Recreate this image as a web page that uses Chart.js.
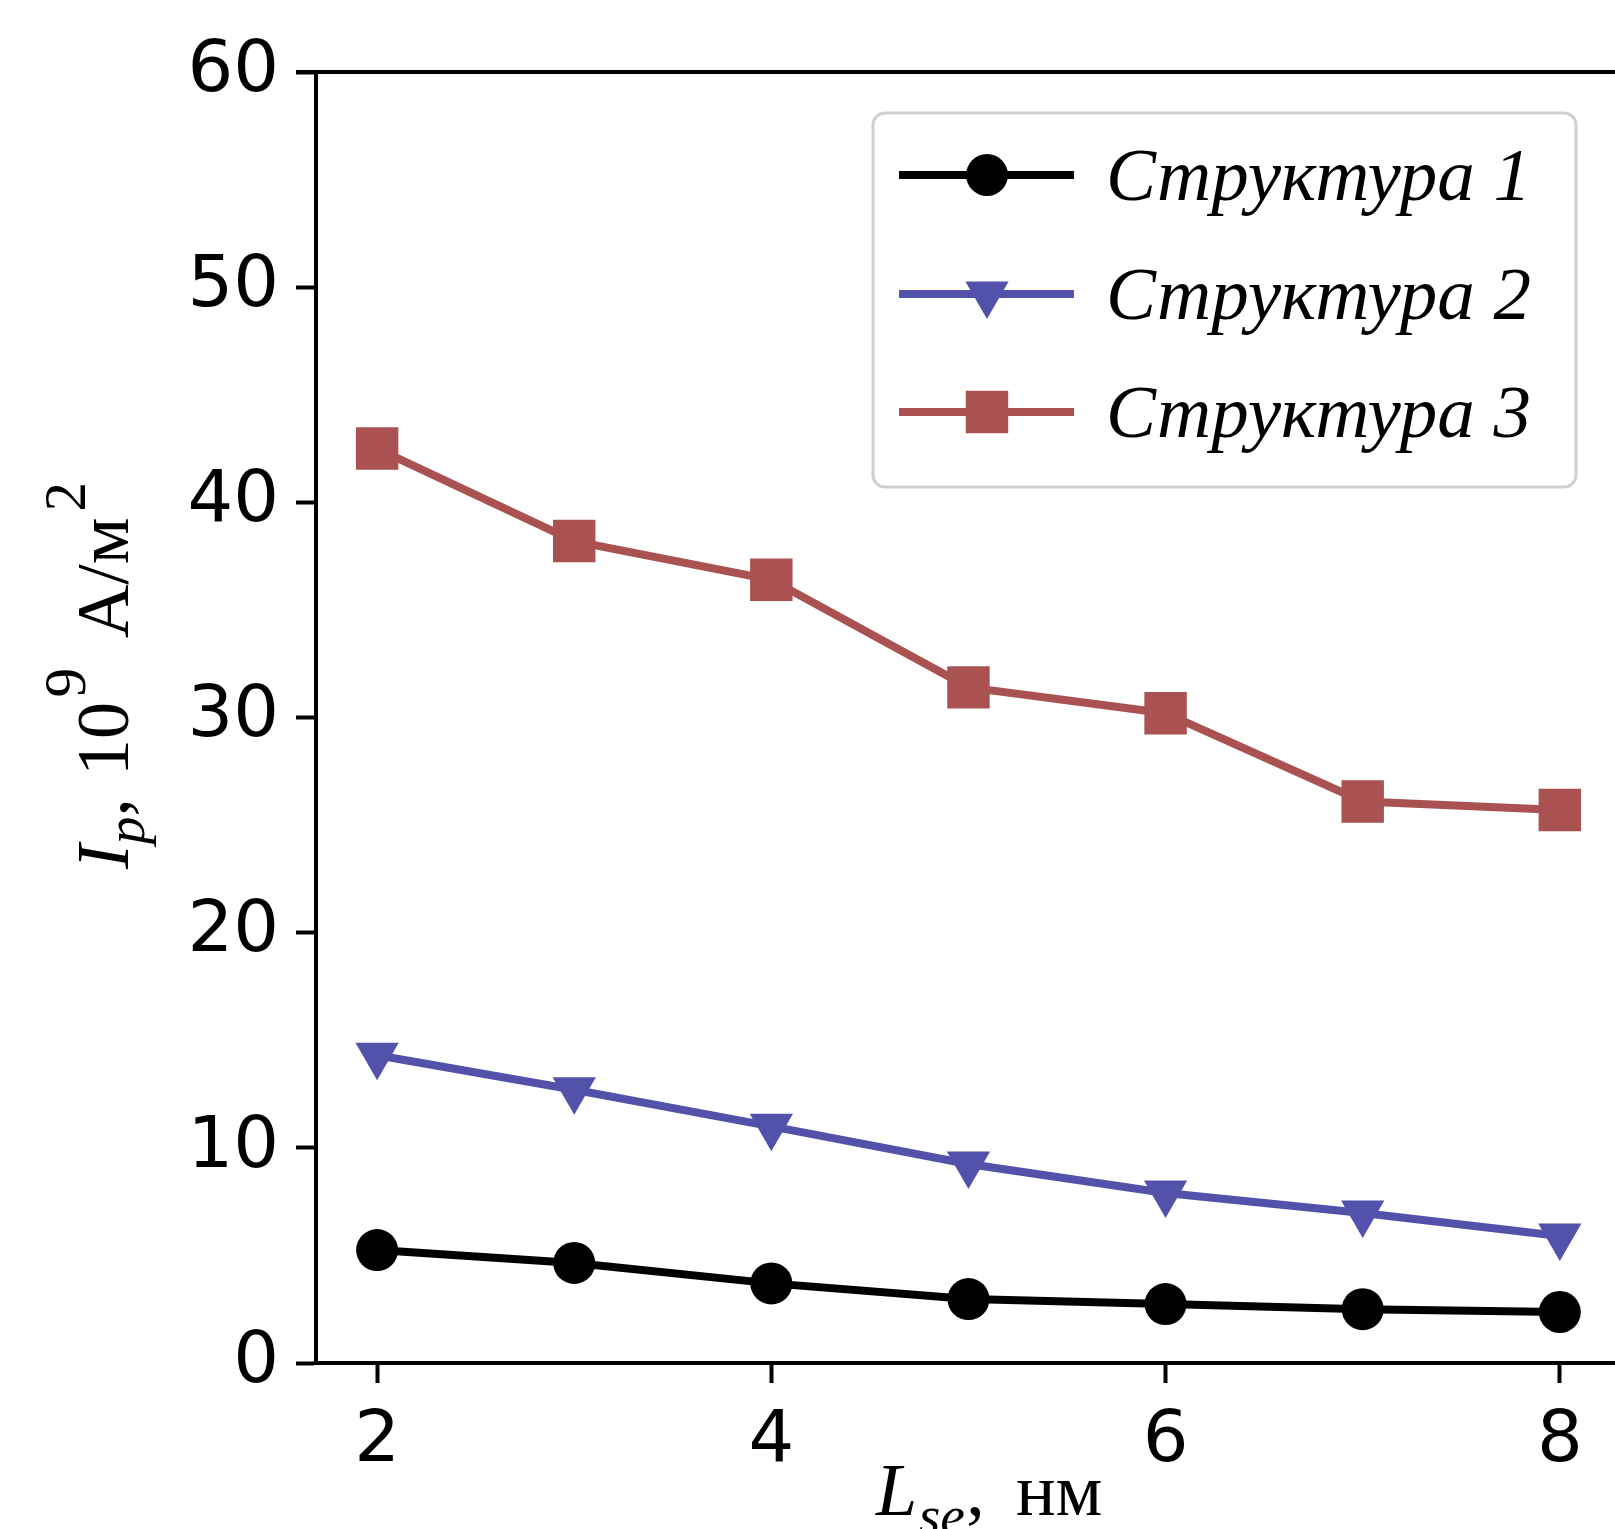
<!DOCTYPE html>
<html lang="ru">
<head>
<meta charset="utf-8">
<script src="https://cdn.jsdelivr.net/npm/chart.js@4.4.1/dist/chart.umd.min.js"></script>
<style>
	html, body { margin: 0; padding: 0; background: #fff; }
	#wrap { width: 1615px; height: 1529px; position: relative; }
</style>
</head>
<body>
<div id="wrap"><canvas id="lineChart"></canvas></div>
<script>
const xValues = [2, 3, 4, 5, 6, 7, 8];
const struct1 = [5.25, 4.65, 3.7, 2.97, 2.74, 2.5, 2.37];
const struct2 = [14.3, 12.7, 11.0, 9.25, 7.9, 6.97, 5.9];
const struct3 = [42.5, 38.2, 36.4, 31.4, 30.2, 26.1, 25.7];
const seriesNames = ['Структура 1', 'Структура 2', 'Структура 3'];
const xTicks = [2, 4, 6, 8];
const yTicks = [0, 10, 20, 30, 40, 50, 60];

const toPoints = (arr) => arr.map((v, i) => { return { x: xValues[i], y: v } });

const serif = '"Liberation Serif", "Times New Roman", serif';
const sans = '"DejaVu Sans", sans-serif';

// text with sub/superscripts, pieces drawn one after another on a baseline
function drawRich(ctx, parts, x, y, size) {
	let cx = x;
	parts.forEach(p => {
		let s = size * (p.scale || 1);
		ctx.font = (p.italic ? 'italic ' : '') + s + 'px ' + serif;
		cx += (p.pre || 0) * size;
		ctx.fillText(p.t, cx, y + (p.dy || 0) * size);
		cx += ctx.measureText(p.t).width;
	});
}

const extrasPlugin = {
	id: 'extras',
	afterDraw(chart) {
		const ctx = chart.ctx;
		const area = chart.chartArea;
		ctx.save();
		// top spine
		ctx.strokeStyle = '#000';
		ctx.lineWidth = 4;
		ctx.beginPath();
		ctx.moveTo(area.left - 20, area.top);
		ctx.lineTo(chart.width, area.top);
		ctx.stroke();

		ctx.fillStyle = '#000';
		ctx.textAlign = 'left';
		ctx.textBaseline = 'alphabetic';

		// x title
		drawRich(ctx, [
			{ t: 'L', italic: true },
			{ t: 'se', italic: true, scale: 0.75, dy: 0.25, pre: 0.02 },
			{ t: ',', pre: 0.02 },
			{ t: 'нм', pre: 0.42 }
		], 876, 1515, 74);

		// y title
		ctx.save();
		ctx.translate(128, 869);
		ctx.rotate(-Math.PI / 2);
		drawRich(ctx, [
			{ t: 'I', italic: true },
			{ t: 'p', italic: true, scale: 0.75, dy: 0.22 },
			{ t: ',' },
			{ t: '10', pre: 0.3 },
			{ t: '9', scale: 0.8, dy: -0.58, pre: 0.06 },
			{ t: 'А/м', pre: 0.4 },
			{ t: '2', scale: 0.8, dy: -0.58, pre: 0.08 }
		], 0, 0, 74);
		ctx.restore();

		// legend box
		const bx = 873, by = 113, bw = 703, bh = 374, r = 12;
		ctx.fillStyle = 'rgba(255,255,255,0.85)';
		ctx.strokeStyle = '#d0d0d0';
		ctx.lineWidth = 3;
		ctx.beginPath();
		ctx.roundRect(bx, by, bw, bh, r);
		ctx.fill();
		ctx.stroke();

		const rows = [175, 294, 412];
		chart.data.datasets.forEach((ds, i) => {
			let yy = rows[i];
			ctx.strokeStyle = ds.borderColor;
			ctx.lineWidth = ds.borderWidth;
			ctx.beginPath();
			ctx.moveTo(899, yy);
			ctx.lineTo(1074, yy);
			ctx.stroke();
			ctx.fillStyle = ds.pointBackgroundColor;
			Chart.helpers.drawPoint(ctx, {
				pointStyle: ds.pointStyle,
				rotation: ds.pointRotation || 0,
				radius: ds.pointRadius,
				borderWidth: 0
			}, 987, yy);
			ctx.fillStyle = '#000';
			ctx.font = 'italic 75px ' + serif;
			ctx.fillText(ds.label, 1106, yy + 25);
		});
		ctx.restore();
	}
};

const colors = ['#000000', '#5252ab', '#aa5151'];

var lineChart = new Chart(document.getElementById('lineChart'), {
	type: 'line',
	data: {
		datasets: [{
			label: seriesNames[0],
			data: toPoints(struct1),
			borderColor: colors[0],
			pointBackgroundColor: colors[0],
			pointBorderColor: colors[0],
			pointStyle: 'circle',
			pointRadius: 21
		}, {
			label: seriesNames[1],
			data: toPoints(struct2),
			borderColor: colors[1],
			pointBackgroundColor: colors[1],
			pointBorderColor: colors[1],
			pointStyle: 'triangle',
			pointRotation: 180,
			pointRadius: 25
		}, {
			label: seriesNames[2],
			data: toPoints(struct3),
			borderColor: colors[2],
			pointBackgroundColor: colors[2],
			pointBorderColor: colors[2],
			pointStyle: 'rect',
			pointRadius: 30
		}].map(ds => Object.assign(ds, { borderWidth: 8, pointBorderWidth: 0, pointHoverRadius: ds.pointRadius, tension: 0, fill: false }))
	},
	options: {
		responsive: true,
		maintainAspectRatio: false,
		animation: false,
		events: [],
		layout: { autoPadding: false, padding: { top: 72, right: 0, left: 0, bottom: 0 } },
		plugins: {
			legend: { display: false },
			tooltip: { enabled: false }
		},
		scales: {
			x: {
				type: 'linear',
				min: 1.69,
				max: 8.28,
				afterBuildTicks: (s) => { s.ticks = xTicks.map(v => ({ value: v })) },
				afterFit: (s) => { s.height = 166; s.paddingLeft = 0; s.paddingRight = 0 },
				border: { display: true, color: '#000', width: 4 },
				grid: { drawOnChartArea: false, drawTicks: true, tickLength: 20, tickWidth: 4, tickColor: '#000' },
				ticks: { color: '#000', font: { family: sans, size: 72 }, padding: 16, maxRotation: 0 }
			},
			y: {
				type: 'linear',
				min: 0,
				max: 60,
				afterBuildTicks: (s) => { s.ticks = yTicks.map(v => ({ value: v })) },
				afterFit: (s) => { s.width = 316; s.paddingTop = 0; s.paddingBottom = 0 },
				border: { display: true, color: '#000', width: 4 },
				grid: { drawOnChartArea: false, drawTicks: true, tickLength: 20, tickWidth: 4, tickColor: '#000' },
				ticks: { color: '#000', font: { family: sans, size: 72 }, padding: 17 }
			}
		}
	},
	plugins: [extrasPlugin]
});
</script>
</body>
</html>
